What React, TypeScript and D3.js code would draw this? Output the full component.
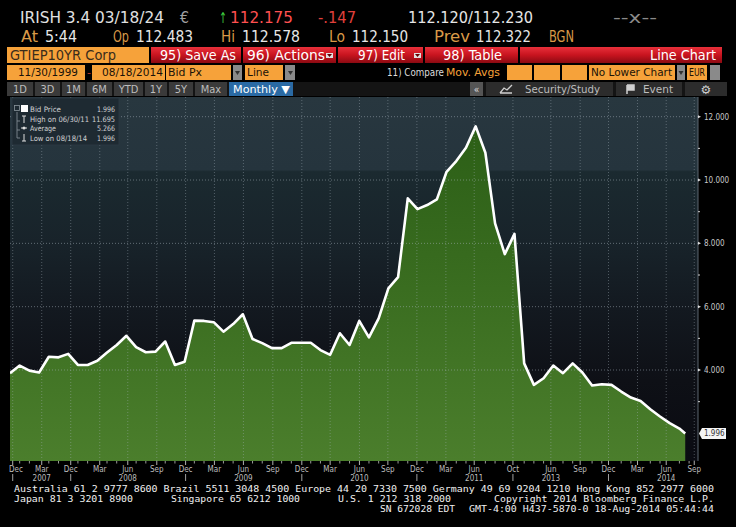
import React from 'react';
import * as d3 from 'd3';

const W = 736;
const H = 527;

// ---- chart data (monthly bid yield, last point is a partial month: 18-Aug-2014)
const yieldValues = [
  3.90, 4.14, 3.98, 3.92, 4.42, 4.40, 4.51, 4.16, 4.16, 4.29,
  4.55, 4.79, 5.08, 4.72, 4.56, 4.58, 4.90, 4.16, 4.26, 5.56,
  5.55, 5.51, 5.21, 5.45, 5.76, 4.98, 4.85, 4.69, 4.69, 4.86,
  4.86, 4.86, 4.63, 4.48, 5.16, 4.79, 5.55, 5.03, 5.63, 6.58,
  6.93, 9.42, 9.08, 9.21, 9.39, 10.26, 10.60, 11.02, 11.695, 10.86,
  8.63, 7.66, 8.30, 4.21, 3.53, 3.74, 4.14, 3.90, 4.21, 3.92,
  3.51, 3.55, 3.53, 3.32, 3.13, 3.02, 2.76, 2.53, 2.32, 2.15,
  1.996,
];
const lastPeriodFraction = 0.6;

const monthTickLabels = ['Dec', 'Mar', 'Dec', 'Mar', 'Jun', 'Sep', 'Dec', 'Mar', 'Jun', 'Sep', 'Dec', 'Mar', 'Jun', 'Sep', 'Dec', 'Mar', 'Jun', 'Oct', 'Jun', 'Sep', 'Dec', 'Mar', 'Jun', 'Sep'];
const monthTickPeriods = [0.28, 3.27, 6.26, 9.25, 12.14, 15.13, 18.1, 21.07, 24.06, 27.09, 30.08, 33.0, 36.02, 38.95, 41.94, 44.93, 47.85, 51.84, 55.75, 58.77, 61.69, 64.68, 67.64, 70.53];
const yearLabels = ['2007', '2008', '2009', '2010', '2011', '2013', '2014'];
const yearLabelPeriods = [3.27, 12.14, 24.06, 36.02, 47.85, 55.75, 67.64];
const yearBreakPeriods = [0.28, 6.26, 18.1, 30.08, 41.94, 51.84, 61.69];

const yMajorTicks = [4, 6, 8, 10, 12];
const yMinorTicks = [3, 5, 7, 9, 11];

const legendNames = ['Bid Price', 'High on 06/30/11', 'Average', 'Low on 08/18/14'];
const legendValues = ['1.996', '11.695', '5.266', '1.996'];
const lastValueLabel = '1.996';

const FONT = "'Liberation Sans Narrow','DejaVu Sans Condensed','Roboto Condensed','DejaVu Sans',sans-serif";
const SMALL = "'DejaVu Sans Condensed','DejaVu Sans',sans-serif";
const FOOT = "'DejaVu Sans Mono','Liberation Mono',monospace";

type TP = { x: number; y: number; w?: number; fill?: string; size?: number; anchor?: string; font?: string; weight?: any; children: any };
function T({ x, y, w, fill = '#e6e6e6', size = 15, anchor = 'start', font = FONT, weight = 'normal', children }: TP) {
  const extra: any = w ? { textLength: w, lengthAdjust: 'spacingAndGlyphs' } : {};
  return (
    <text x={x} y={y} fill={fill} fontSize={size} fontFamily={font} textAnchor={anchor as any} fontWeight={weight} {...extra}>
      {children}
    </text>
  );
}

export default function App() {
  const plotL = 10, plotR = 698, plotT = 97, plotB = 461;
  const x = d3.scaleLinear().domain([0, 67]).range([10, 660]);
  const y = d3.scaleLinear().domain([4, 12]).range([370, 116.7]);

  const n = yieldValues.length;
  const periods = yieldValues.map((_, i) => (i === n - 1 ? n - 2 + lastPeriodFraction : i));
  const pts = yieldValues.map((v, i) => ({ p: periods[i], v }));

  const area = d3.area<any>().x((d) => x(d.p)).y0(plotB).y1((d) => y(d.v))(pts) || '';
  const line = d3.line<any>().x((d) => x(d.p)).y((d) => y(d.v))(pts) || '';

  const minorMonths = d3.range(0, 71).filter((k) => !monthTickPeriods.some((m) => Math.abs(m - k) < 0.5));
  const lastY = y(yieldValues[n - 1]);

  const redBtn = (x0: number, x1: number) => (
    <rect x={x0} y={47} width={x1 - x0} height={16} fill="url(#redg)" />
  );
  const orange = '#f6a23a';

  const row5 = [
    [7, 33, '1D'], [35, 60, '3D'], [62, 85, '1M'], [87, 112, '6M'], [114, 143, 'YTD'],
    [145, 167, '1Y'], [169, 193, '5Y'], [195, 227, 'Max'],
  ] as [number, number, string][];

  const legendNameW = [31, 59, 26, 57];
  const legendValW = [18, 23, 18, 18];

  return (
    <svg width={W} height={H} style={{ position: 'absolute', left: 0, top: 0 }} xmlns="http://www.w3.org/2000/svg">
      <defs>
        <linearGradient id="bg" gradientUnits="userSpaceOnUse" x1="0" y1={plotT} x2="0" y2={plotB}>
          <stop offset="0" stopColor="#28373f" />
          <stop offset="0.2" stopColor="#25343d" />
          <stop offset="0.205" stopColor="#1b2a30" />
          <stop offset="0.4" stopColor="#18232a" />
          <stop offset="0.58" stopColor="#131920" />
          <stop offset="0.78" stopColor="#0e1016" />
          <stop offset="1" stopColor="#0a0b12" />
        </linearGradient>
        <linearGradient id="green" gradientUnits="userSpaceOnUse" x1="0" y1="117" x2="0" y2={plotB}>
          <stop offset="0" stopColor="#2b5e16" />
          <stop offset="0.5" stopColor="#3a6d20" />
          <stop offset="1" stopColor="#4b7e2c" />
        </linearGradient>
        <linearGradient id="redg" x1="0" y1="0" x2="0" y2="1">
          <stop offset="0" stopColor="#e8303a" />
          <stop offset="0.5" stopColor="#c8141f" />
          <stop offset="1" stopColor="#8c0a12" />
        </linearGradient>
        <clipPath id="plotclip">
          <rect x={plotL} y={plotT} width={plotR - plotL} height={plotB - plotT} />
        </clipPath>
      </defs>

      <rect x={0} y={0} width={W} height={H} fill="#000" />

      {/* ---------- header row 1 ---------- */}
      <T x={20} y={23} w={144} fill="#e0e0e0">IRISH 3.4 03/18/24</T>
      <T x={180} y={23} w={9} fill="#a0a0a0">€</T>
      <T x={219} y={23} w={8} fill="#3fcf3f">↑</T>
      <T x={230} y={23} w={63} fill="#ff5050">112.175</T>
      <T x={318} y={23} w={38} fill="#e0403c">-.147</T>
      <T x={408} y={23} w={125} fill="#e6e6e6">112.120/112.230</T>
      <T x={613} y={23} w={44} fill="#8a8a8a">--x--</T>

      {/* ---------- header row 2 ---------- */}
      <T x={21} y={42} w={17} fill="#d99a48">At</T>
      <T x={45} y={42} w={32}>5:44</T>
      <T x={113} y={42} w={16} fill="#d99a48">Op</T>
      <T x={136} y={42} w={57}>112.483</T>
      <T x={221} y={42} w={14} fill="#d99a48">Hi</T>
      <T x={242} y={42} w={58}>112.578</T>
      <T x={329} y={42} w={16} fill="#d99a48">Lo</T>
      <T x={352} y={42} w={56}>112.150</T>
      <T x={434} y={42} w={36} fill="#d99a48">Prev</T>
      <T x={476} y={42} w={55}>112.322</T>
      <T x={549} y={42} w={25} fill="#d99a48">BGN</T>

      {/* ---------- header row 3 ---------- */}
      <rect x={7} y={47} width={142} height={16} fill={orange} />
      <T x={10} y={60} w={106} fill="#3a2c1a" size={14}>GTIEP10YR Corp</T>
      {redBtn(151, 241)}
      {redBtn(243, 336)}
      {redBtn(338, 423)}
      {redBtn(425, 518)}
      {redBtn(520, 722)}
      <T x={160} y={60} w={76} size={14} fill="#fff">95) Save As</T>
      <T x={247} y={60} w={78} size={14} fill="#fff">96) Actions</T>
      <rect x={326} y={53} width={7} height={5} fill="#e0e0e0" />
      <path d="M327,54 L332,54 L329.5,57 Z" fill="#600" />
      <T x={358} y={60} w={47} size={14} fill="#fff">97) Edit</T>
      <rect x={414} y={53} width={7} height={5} fill="#e0e0e0" />
      <path d="M415,54 L420,54 L417.5,57 Z" fill="#600" />
      <T x={443} y={60} w={59} size={14} fill="#fff">98) Table</T>
      <T x={716} y={60} w={66} size={14} fill="#fff" anchor="end">Line Chart</T>

      {/* ---------- header row 4 ---------- */}
      <rect x={7} y={65} width={78} height={15} fill={orange} />
      <T x={18} y={76} w={60} size={10.5} fill="#1a1208">11/30/1999</T>
      <T x={87} y={76} w={4} size={10.5} fill="#c0392b">-</T>
      <rect x={92} y={65} width={73} height={15} fill={orange} />
      <T x={102} y={76} w={61} size={10.5} fill="#1a1208">08/18/2014</T>
      <rect x={166} y={65} width={65} height={15} fill={orange} />
      <T x={168} y={76} w={34} size={10.5} fill="#1a1208">Bid Px</T>
      <rect x={233} y={65} width={9} height={15} fill="#8a8a8a" />
      <path d="M235,71 L240,71 L237.5,75 Z" fill="#333" />
      <rect x={245} y={65} width={38} height={15} fill={orange} />
      <T x={247} y={76} w={22} size={10.5} fill="#1a1208">Line</T>
      <rect x={285} y={65} width={10} height={15} fill="#8a8a8a" />
      <path d="M288,71 L293,71 L290.5,75 Z" fill="#333" />
      <T x={387} y={76} w={57} size={10} fill="#dcdcdc">11) Compare</T>
      <T x={446} y={76} w={54} size={10.5} fill={orange}>Mov. Avgs</T>
      <rect x={507} y={65} width={25} height={15} fill={orange} />
      <rect x={534} y={65} width={26} height={15} fill={orange} />
      <rect x={562} y={65} width={25} height={15} fill={orange} />
      <rect x={589} y={65} width={86} height={15} fill={orange} />
      <T x={591} y={76} w={81} size={10.5} fill="#1a1208">No Lower Chart</T>
      <rect x={677} y={65} width={8} height={15} fill="#8a8a8a" />
      <path d="M678.5,71 L683.5,71 L681,75 Z" fill="#333" />
      <rect x={687} y={65} width={20} height={15} fill={orange} />
      <T x={689} y={76} w={16} size={10.5} fill="#1a1208">EUR</T>
      <rect x={710} y={65} width={10} height={15} fill="#8a8a8a" />

      {/* ---------- header row 5 ---------- */}
      <rect x={7} y={82} width={720} height={14} fill="#141414" />
      {row5.map(([a, b, t]) => (
        <g key={t}>
          <rect x={a} y={82} width={b - a} height={14} fill="#3a3a3a" />
          <T x={(a + b) / 2} y={93} size={11} fill="#bdbdbd" anchor="middle">{t}</T>
        </g>
      ))}
      <rect x={229} y={82} width={64} height={14} fill="#2a6aa4" />
      <T x={233} y={93} w={57} size={11} fill="#fff">Monthly ▼</T>
      <rect x={470} y={82} width={13} height={14} fill="#555" />
      <T x={476.5} y={93} size={10} fill="#ddd" anchor="middle">«</T>
      <rect x={486} y={82} width={127} height={14} fill="#2c2c2c" />
      <path d="M500,93 L504,88 L507,90 L512,85 M500,93 L512,93" stroke="#cfcfcf" strokeWidth={1.3} fill="none" />
      <T x={525} y={93} w={75} size={11} fill="#bdbdbd">Security/Study</T>
      <rect x={616} y={82} width={66} height={14} fill="#2c2c2c" />
      <path d="M627,85 L627,94 M627,85 L634,85 L634,90 L627,90" stroke="#cfcfcf" strokeWidth={1.5} fill="#cfcfcf" />
      <T x={643} y={93} w={30} size={11} fill="#bdbdbd">Event</T>
      <rect x={685} y={82} width={42} height={14} fill="#2c2c2c" />
      <T x={706} y={94} size={12} fill="#cfcfcf" anchor="middle" font="'DejaVu Sans',sans-serif">⚙</T>

      {/* ---------- plot ---------- */}
      <rect x={plotL} y={plotT} width={plotR - plotL} height={plotB - plotT} fill="url(#bg)" />
      <g clipPath="url(#plotclip)">
        <path d={area} fill="url(#green)" />
        {yMajorTicks.map((t) => (
          <line key={'h' + t} x1={plotL} x2={plotR} y1={y(t)} y2={y(t)} stroke="#a9b6c0" strokeOpacity={0.5} strokeDasharray="1,2" />
        ))}
        {monthTickPeriods.map((p, i) => (
          <line key={'v' + i} x1={x(p)} x2={x(p)} y1={plotT} y2={plotB} stroke="#a9b6c0" strokeOpacity={0.4} strokeDasharray="1,2" />
        ))}
        <path d={line} fill="none" stroke="#ffffff" strokeWidth={2.6} strokeLinejoin="round" />
      </g>

      {/* right axis */}
      <line x1={plotR} x2={plotR} y1={plotT} y2={plotB} stroke="#5d6670" strokeWidth={1} />
      {yMajorTicks.map((t) => (
        <g key={'yt' + t}>
          <path d={`M${plotR},${y(t) - 1.5} L${plotR + 3},${y(t)} L${plotR},${y(t) + 1.5} Z`} fill="#dcdcdc" />
          <T x={plotR + 6} y={y(t) + 3} size={8} fill="#c8c8c8" font={SMALL}>{t.toFixed(3)}</T>
        </g>
      ))}
      {yMinorTicks.map((t) => (
        <line key={'ym' + t} x1={plotR} x2={plotR + 2} y1={y(t)} y2={y(t)} stroke="#cfcfcf" />
      ))}
      {/* last value tag */}
      <path d={`M${plotR + 1},${lastY} L${plotR + 4},${lastY - 5.5} L${plotR + 28},${lastY - 5.5} L${plotR + 28},${lastY + 5.5} L${plotR + 4},${lastY + 5.5} Z`} fill="#f4f4f4" />
      <T x={plotR + 6} y={lastY + 3} size={8} fill="#333" font={SMALL}>{lastValueLabel}</T>

      {/* legend */}
      <rect x={12} y={98} width={107} height={47} fill="#1e2a32" stroke="#2d3a44" strokeWidth={0.8} />
      <path d="M17,112 L17,138 M17,121 L20,121 M17,130 L20,130 M17,138 L20,138" stroke="#8a949c" strokeWidth={0.8} fill="none" />
      <rect x={14.5} y={105.5} width={5} height={5} fill="none" stroke="#8a949c" strokeWidth={0.8} />
      <rect x={21} y={105} width={7} height={7} fill="#fff" />
      <path d="M22,116 L26,116 M24,116 L24,123" stroke="#ddd" strokeWidth={1} />
      <path d="M21,128 L27,128" stroke="#ddd" strokeWidth={1} />
      <circle cx={24} cy={128} r={1.5} fill="#ddd" />
      <path d="M24,134 L24,141 M22,141 L26,141" stroke="#ddd" strokeWidth={1} />
      {legendNames.map((nm, i) => (
        <g key={nm}>
          <T x={30} y={112 + i * 9.6} w={legendNameW[i]} size={7.5} fill="#d2d2d2" font={SMALL}>{nm}</T>
          <T x={115} y={112 + i * 9.6} w={legendValW[i]} size={7.5} fill="#d2d2d2" anchor="end" font={SMALL}>{legendValues[i]}</T>
        </g>
      ))}

      {/* x axis */}
      {minorMonths.map((k) => (
        <line key={'mm' + k} x1={x(k)} x2={x(k)} y1={plotB} y2={plotB + 2.5} stroke="#9a9a9a" />
      ))}
      {monthTickPeriods.map((p, i) => (
        <g key={'mt' + i}>
          <line x1={x(p)} x2={x(p)} y1={plotB} y2={plotB + 4} stroke="#b0b0b0" />
          <T x={Math.max(x(p), 16)} y={472} size={8} fill="#bdbdbd" anchor="middle" font={SMALL}>{monthTickLabels[i]}</T>
        </g>
      ))}
      {yearBreakPeriods.map((p, i) => (
        <line key={'yb' + i} x1={x(p)} x2={x(p)} y1={474} y2={481} stroke="#a0a0a0" />
      ))}
      {yearLabels.map((t, i) => (
        <T key={t} x={x(yearLabelPeriods[i])} y={481} size={8} fill="#bdbdbd" anchor="middle" font={SMALL}>{t}</T>
      ))}

      {/* footer */}
      <T x={14} y={492} w={700} size={9.5} fill="#f0f0f0" font={FOOT}>Australia 61 2 9777 8600 Brazil 5511 3048 4500 Europe 44 20 7330 7500 Germany 49 69 9204 1210 Hong Kong 852 2977 6000</T>
      <T x={14} y={502} w={119} size={9.5} fill="#f0f0f0" font={FOOT}>Japan 81 3 3201 8900</T>
      <T x={171} y={502} w={129} size={9.5} fill="#f0f0f0" font={FOOT}>Singapore 65 6212 1000</T>
      <T x={338} y={502} w={113} size={9.5} fill="#f0f0f0" font={FOOT}>U.S. 1 212 318 2000</T>
      <T x={494} y={502} w={220} size={9.5} fill="#f0f0f0" font={FOOT}>Copyright 2014 Bloomberg Finance L.P.</T>
      <T x={380} y={511.5} w={75} size={9.5} fill="#f0f0f0" font={FOOT}>SN 672028 EDT</T>
      <T x={469} y={511.5} w={245} size={9.5} fill="#f0f0f0" font={FOOT}>GMT-4:00 H437-5870-0 18-Aug-2014 05:44:44</T>
    </svg>
  );
}
